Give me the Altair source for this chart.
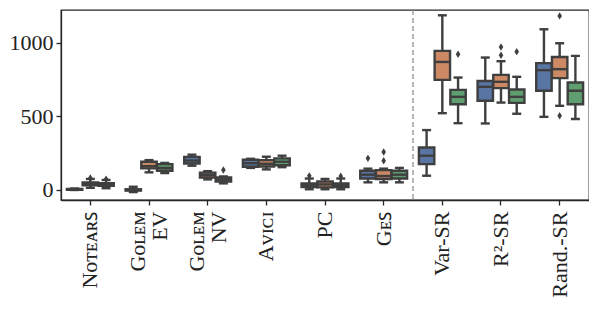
import altair as alt
import pandas as pd

# categories (| marks a line break in the tick label)
methods = ["Nᴏᴛᴇᴀʀꜱ", "Gᴏʟᴇᴍ|EV", "Gᴏʟᴇᴍ|NV", "Aᴠɪᴄɪ", "PC", "Gᴇꜱ", "Var-SR", "R²-SR", "Rand.-SR"]
groups = ["g1", "g2", "g3"]
colors = ["#5875A4", "#CC8963", "#5F9E6E"]

# box statistics, ordered method by method, group g1, g2, g3
lo  = [0, 15, 12,   -14, 120, 115,   165, 72, 45,    150, 140, 155,   5, 5, 5,      52, 52, 52,      97, 522, 454,    452, 594, 518,   497, 572, 482]
q1  = [2, 32, 28,   -4, 147, 131,    180, 85, 58,    158, 160, 168,   20, 18, 20,   78, 75, 78,      176, 748, 583,   606, 692, 592,   674, 760, 583]
med = [4, 42, 36,   0, 162, 150,     200, 102, 72,   182, 178, 192,   32, 38, 32,   104, 95, 104,    233, 870, 633,   701, 735, 633,   814, 821, 674]
q3  = [7, 52, 46,   5, 192, 176,     225, 118, 86,   205, 203, 215,   45, 58, 45,   131, 135, 131,   289, 945, 680,   741, 782, 683,   862, 904, 730]
hi  = [10, 75, 68,  22, 203, 184,    240, 128, 92,   212, 226, 233,   78, 75, 78,   145, 145, 150,   407, 1187, 764,  900, 875, 769,   1092, 997, 911]

# outliers
out_method = ["Nᴏᴛᴇᴀʀꜱ", "Nᴏᴛᴇᴀʀꜱ", "Gᴏʟᴇᴍ|NV", "PC", "PC", "Gᴇꜱ", "Gᴇꜱ", "Gᴇꜱ", "Var-SR", "R²-SR", "R²-SR", "R²-SR", "Rand.-SR", "Rand.-SR"]
out_group  = ["g2", "g3", "g3", "g1", "g3", "g1", "g2", "g2", "g3", "g2", "g2", "g3", "g2", "g2"]
out_value  = [82, 74, 136, 96, 94, 215, 199, 258, 922, 916, 972, 940, 1183, 504]

y_ticks = [0, 500, 1000]

rows = []
for i, m in enumerate(methods):
    for j, g in enumerate(groups):
        k = i * 3 + j
        rows.append(dict(method=m, group=g, lo=lo[k], q1=q1[k], med=med[k], q3=q3[k], hi=hi[k]))
df = pd.DataFrame(rows)
odf = pd.DataFrame(dict(method=out_method, group=out_group, value=out_value))

gray = "#3f3f3f"
font = "Liberation Serif"
lw = 2.4

x_enc = alt.X("method:N", sort=methods, title=None,
              scale=alt.Scale(domain=methods, paddingInner=0, paddingOuter=0),
              axis=alt.Axis(labelAngle=-90, labelAlign="right", labelBaseline="middle",
                            labelExpr="split(datum.label, '|')", labelFont=font,
                            labelFontSize=22, labelPadding=6, tickSize=5,
                            labelOffset={"condition": {"test": "indexof(datum.value, '|') >= 0", "value": -11}, "value": 0},
                            labelLineHeight=22, labelColor="#222222"))
xo_enc = alt.XOffset("group:N", sort=groups,
                     scale=alt.Scale(domain=groups, paddingInner=0.02, paddingOuter=0.375))
y_scale = alt.Scale(domain=[-68, 1223], nice=False, zero=False)
y_axis = alt.Axis(values=y_ticks, format="d", grid=False, tickSize=5, labelPadding=3, labelFont=font,
                  labelFontSize=22, labelColor="#222222", title=None)

base = alt.Chart(df).encode(x=x_enc, xOffset=xo_enc)

whisk_lo = base.mark_rule(color=gray, strokeWidth=lw).encode(
    y=alt.Y("lo:Q", scale=y_scale, axis=y_axis), y2="q1:Q")
whisk_hi = base.mark_rule(color=gray, strokeWidth=lw).encode(y=alt.Y("q3:Q"), y2="hi:Q")
cap_lo = base.mark_tick(color=gray, thickness=lw, size=9, opacity=1).encode(y=alt.Y("lo:Q"))
cap_hi = base.mark_tick(color=gray, thickness=lw, size=9, opacity=1).encode(y=alt.Y("hi:Q"))
box = base.mark_bar(stroke=gray, strokeWidth=lw, opacity=1).encode(
    y=alt.Y("q1:Q"), y2="q3:Q",
    color=alt.Color("group:N", scale=alt.Scale(domain=groups, range=colors), legend=None))
median = base.mark_tick(color=gray, thickness=lw, size=15, opacity=1).encode(y=alt.Y("med:Q"))

outl = alt.Chart(odf).mark_point(shape="M0,-1L0.62,0L0,1L-0.62,0Z", filled=True, color=gray,
                                 size=55, opacity=1).encode(
    x=alt.X("method:N", sort=methods), xOffset=alt.XOffset("group:N", sort=groups), y=alt.Y("value:Q"))

divider = alt.Chart(pd.DataFrame({"d": [0]})).mark_rule(
    color="#8a8a8a", strokeDash=[5, 3], strokeWidth=1.2).encode(
    x=alt.X(datum=methods[6], type="nominal", bandPosition=0))

chart = alt.layer(divider, whisk_lo, whisk_hi, cap_lo, cap_hi, box, median, outl).properties(
    width=528, height=190,
    padding={"left": 1, "top": 1, "right": 0, "bottom": 0},
).configure_view(stroke="#262626", strokeWidth=1.3).configure_axis(
    domainColor="#262626", domainWidth=1.3, tickColor="#262626", tickWidth=1.3)

chart.save("out.html", embed_options={"renderer": "svg", "actions": False})
